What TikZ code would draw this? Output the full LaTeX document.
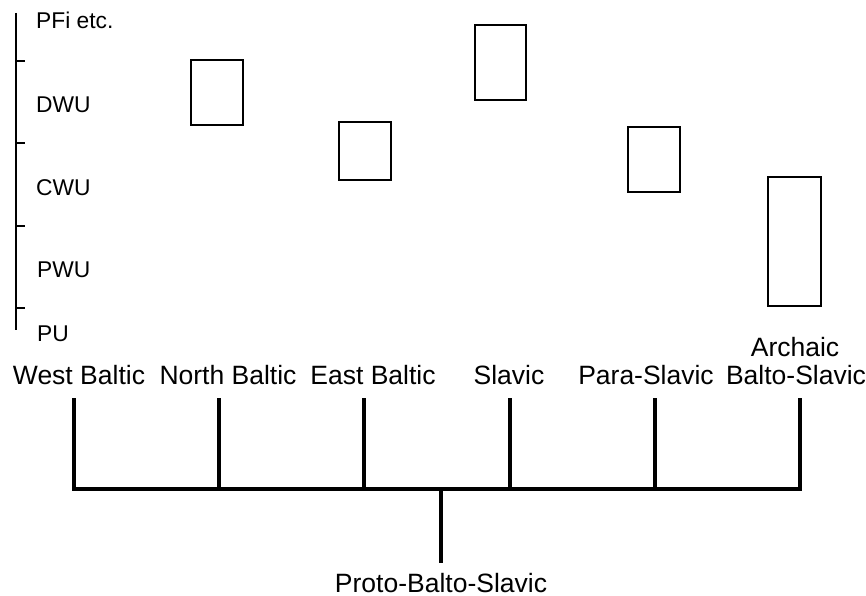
\documentclass[tikz,border=0pt]{standalone}
\usepackage{fontspec}
\setmainfont{Liberation Sans}
\begin{document}
\begin{tikzpicture}[x=1pt,y=-1pt,
  box/.style={draw,line width=2pt,inner sep=0pt,minimum width=52pt},
  big/.style={font=\fontsize{26.5}{30}\selectfont,inner sep=0pt,anchor=base},
  small/.style={font=\fontsize{22.8}{26}\selectfont,inner sep=0pt,anchor=base west},
  tree/.style={line width=3.8pt,line join=miter},
  axis/.style={line width=2.5pt}]
\useasboundingbox (0,0) rectangle (866,596);
% axis
\draw[axis] (16,13) -- (16,330);
\foreach \y in {61,143,226,308} \draw[axis] (16,\y) -- (25,\y);
\node[small] (pfi) at (36,29) {PFi etc.};
\node[small] (dwu) at (36,113) {DWU};
\node[small] (cwu) at (36,195) {CWU};
\node[small] (pwu) at (37,277) {PWU};
\node[small] (pu) at (37,341) {PU};
% boxes
\node[box,minimum height=65pt] (b1) at (217,92.5) {};
\node[box,minimum height=58pt] (b2) at (365,151) {};
\node[box,minimum width=51pt,minimum height=75pt] (b3) at (500.5,62.5) {};
\node[box,minimum height=65pt] (b4) at (653.5,159.5) {};
\node[box,minimum width=53pt,minimum height=129pt] (b5) at (794.5,241.5) {};
% labels
\node[big] (wb) at (79,384) {West Baltic};
\node[big] (nb) at (228,384) {North Baltic};
\node[big] (eb) at (373,384) {East Baltic};
\node[big] (sl) at (509,384) {Slavic};
\node[big] (ps) at (646,384) {Para-Slavic};
\node[big] (ar) at (795,356) {Archaic};
\node[big] (bs) at (796,384) {Balto-Slavic};
\node[big] (pbs) at (441,592) {Proto-Balto-Slavic};
% tree
\coordinate (t1) at (74,398);
\coordinate (t2) at (219,398);
\coordinate (t3) at (364,398);
\coordinate (t4) at (510,398);
\coordinate (t5) at (655,398);
\coordinate (t6) at (800,398);
\coordinate (root) at (441,489);
\coordinate (stem) at (441,563);
\draw[tree] (t1) -- (t1 |- root) -- (t6 |- root) -- (t6);
\foreach \t in {t2,t3,t4,t5} \draw[tree] (\t) -- (\t |- root);
\draw[tree] (root) -- (stem);
\end{tikzpicture}
\end{document}
